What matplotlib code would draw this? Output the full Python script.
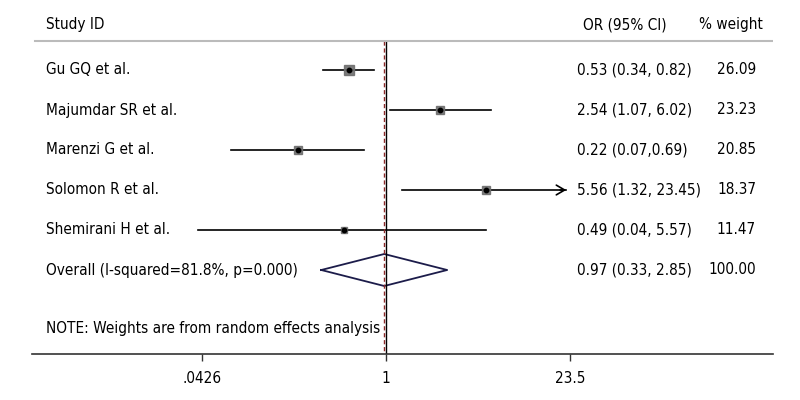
import numpy as np
import matplotlib
matplotlib.use("Agg")
import matplotlib.pyplot as plt
from matplotlib import font_manager
from matplotlib.font_manager import FontProperties
from matplotlib.transforms import blended_transform_factory

# data
studies = ["Gu GQ et al.", "Majumdar SR et al.", "Marenzi G et al.",
           "Solomon R et al.", "Shemirani H et al."]
odds = [0.53, 2.54, 0.22, 5.56, 0.49]
lower = [0.34, 1.07, 0.07, 1.32, 0.04]
upper = [0.82, 6.02, 0.69, 23.45, 5.57]
or_labels = ["0.53 (0.34, 0.82)", "2.54 (1.07, 6.02)", "0.22 (0.07,0.69)",
             "5.56 (1.32, 23.45)", "0.49 (0.04, 5.57)"]
weights = ["26.09", "23.23", "20.85", "18.37", "11.47"]
weight_vals = [26.09, 23.23, 20.85, 18.37, 11.47]

overall_label = "Overall (I-squared=81.8%, p=0.000)"
overall = [0.97, 0.33, 2.85]
overall_or = "0.97 (0.33, 2.85)"
overall_w = "100.00"
note = "NOTE: Weights are from random effects analysis"
ticks = [0.0426, 1, 23.5]
tick_labels = [".0426", "1", "23.5"]


# look for a condensed / narrow face, otherwise plain DejaVu Sans
def pick_font():
    cands = []
    for f in font_manager.fontManager.ttflist:
        nm = (f.name + " " + f.fname).lower()
        narrow = ('condensed' in nm or 'narrow' in nm or
                  str(f.stretch) in ('condensed', 'semi-condensed', '500', '400')
                  and 'condensed' in nm)
        if narrow and f.style == 'normal' and f.weight in (400, 'normal', 'regular', 'book'):
            if 'mono' not in nm and 'serif' not in nm.replace('sans', ''):
                cands.append(f.fname)
    if cands:
        cands.sort(key=lambda p: ('semi' in p.lower(), 'extra' in p.lower(), p))
        return FontProperties(fname=cands[0])
    return FontProperties(family='DejaVu Sans')


fp = pick_font()

fig = plt.figure(figsize=(8, 4), dpi=100)

# size the text so the overall label is as wide as in the reference (~252 px)
r = fig.canvas.get_renderer()
t = fig.text(0, 0, overall_label, fontproperties=fp, fontsize=12)
w = t.get_window_extent(renderer=r).width
t.remove()
FS = min(13.0, 12 * 252 / w)
fp.set_size(FS)

ax = fig.add_axes([32 / 800, 46 / 400, 741 / 800, 354 / 400])
ax.set_xscale('log')
ax.set_xlim(0.00233, 755)
ax.set_ylim(7.1, -1.75)

for s in ['top', 'right', 'left']:
    ax.spines[s].set_visible(False)
ax.spines['bottom'].set_color('#333333')
ax.spines['bottom'].set_linewidth(1.2)
ax.set_yticks([])
ax.set_xticks(ticks)
ax.set_xticklabels(tick_labels)
for lb in ax.get_xticklabels():
    lb.set_fontproperties(fp)
ax.xaxis.set_minor_locator(matplotlib.ticker.NullLocator())
ax.tick_params(axis='x', length=5, width=1, color='#333333', pad=7)

xmax_cap = 23.5
for i in range(len(studies)):
    hi = min(upper[i], xmax_cap)
    if upper[i] >= xmax_cap * 0.99:
        ax.plot([lower[i], hi * 0.93], [i, i], color='black', lw=1.2)
        ax.annotate("", xy=(hi * 0.98, i), xytext=(hi * 0.8, i),
                    arrowprops=dict(arrowstyle='->,head_length=0.6,head_width=0.35',
                                    color='black', lw=1.2))
    else:
        ax.plot([lower[i], upper[i]], [i, i], color='black', lw=1.2)
    ms = 6.5 * np.sqrt(weight_vals[i] / 26.09)
    ax.plot(odds[i], i, marker='s', ms=ms, color='#6e6e6e', mec='#6e6e6e', alpha=0.9)
    ax.plot(odds[i], i, marker='o', ms=3.2, color='black')

# diamond for pooled estimate
yo = 5
h = 0.4
ax.plot([overall[1], overall[0], overall[2], overall[0], overall[1]],
        [yo, yo - h, yo, yo + h, yo], color='#1c1c4a', lw=1.3)

# reference lines
ax.plot([1, 1], [-0.725, 7.1], color='black', lw=1.0)
ax.plot([overall[0], overall[0]], [-0.725, 7.1], color='#8b2a2a', lw=1.0,
        ls=(0, (3, 2)))

# header line
ax.axhline(-0.725, xmin=(35 - 32) / 741, xmax=1, color='#bbbbbb', lw=1.5)

tr = blended_transform_factory(fig.transFigure, ax.transData)
kw = dict(transform=tr, fontproperties=fp, va='center')
ax.text(46 / 800, -1.125, "Study ID", **kw)
ax.text(583 / 800, -1.125, "OR (95% CI)", **kw)
ax.text(763 / 800, -1.125, "% weight", ha='right', **kw)

for i in range(len(studies)):
    ax.text(46 / 800, i, studies[i], **kw)
    ax.text(577 / 800, i, or_labels[i], **kw)
    ax.text(756 / 800, i, weights[i], ha='right', **kw)

ax.text(46 / 800, yo, overall_label, **kw)
ax.text(577 / 800, yo, overall_or, **kw)
ax.text(756 / 800, yo, overall_w, ha='right', **kw)
ax.text(46 / 800, 6.45, note, **kw)

fig.savefig("out.png", dpi=100)
